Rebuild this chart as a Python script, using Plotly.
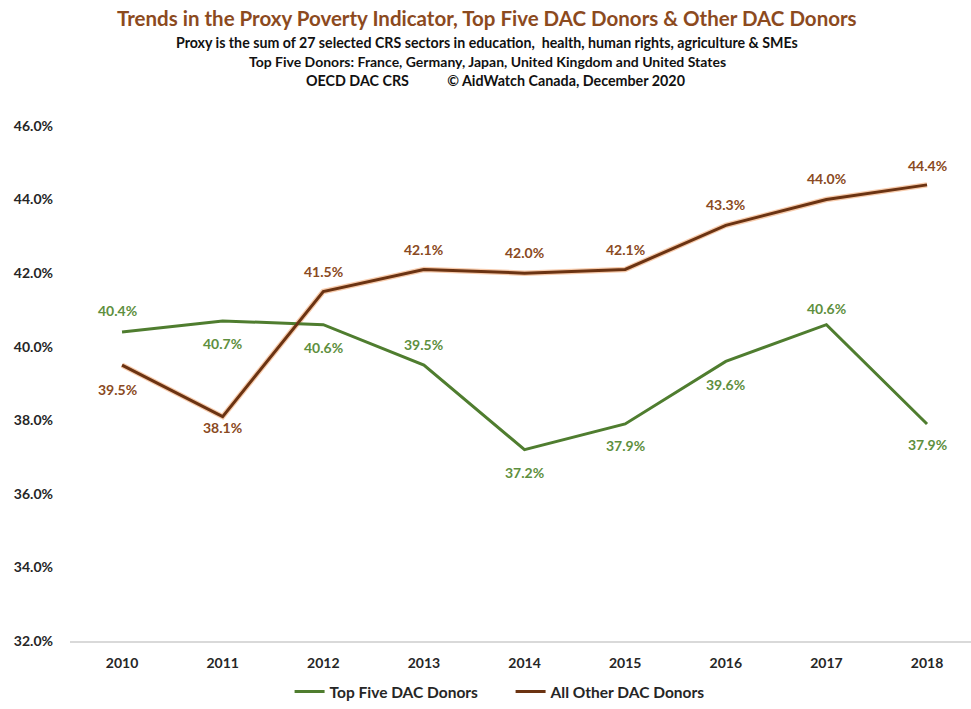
import plotly.graph_objects as go

# Proxy poverty indicator (% of ODA), by year
years = ["2010", "2011", "2012", "2013", "2014", "2015", "2016", "2017", "2018"]
top_five = [40.4, 40.7, 40.6, 39.5, 37.2, 37.9, 39.6, 40.6, 37.9]
other_dac = [39.5, 38.1, 41.5, 42.1, 42.0, 42.1, 43.3, 44.0, 44.4]

# Vertical pixel offsets of the value labels (positive = above the point)
top_five_label_shift = [22, -23, -23, 21, -23, -22, -23, 16, -21]
other_dac_label_shift = [-24, -11, 20, 20, 21, 20, 21, 21, 19]

GREEN = "#4f7d2f"
GREEN_TEXT = "#5e8f3e"
BROWN = "#6b3312"
BROWN_TEXT = "#8a4a22"
FONT = "Lato"

fig = go.Figure()

fig.add_trace(go.Scatter(
    x=years, y=other_dac, mode="lines", showlegend=False, hoverinfo="skip",
    line=dict(color="rgba(237,140,70,0.45)", width=5.5),
))
fig.add_trace(go.Scatter(
    x=years, y=top_five, mode="lines", name="Top Five DAC Donors",
    line=dict(color=GREEN, width=3),
))
fig.add_trace(go.Scatter(
    x=years, y=other_dac, mode="lines", name="All Other DAC Donors",
    line=dict(color=BROWN, width=3),
))

annotations = []
# Value labels, positioned on the category index of each year
for i, v in enumerate(top_five):
    annotations.append(dict(
        x=i, y=v, xref="x", yref="y", text=f"{v:.1f}%", showarrow=False,
        yshift=top_five_label_shift[i], xshift=-5 if i == 0 else 0,
        font=dict(family=FONT, size=14, color=GREEN_TEXT, weight="bold"),
    ))
for i, v in enumerate(other_dac):
    annotations.append(dict(
        x=i, y=v, xref="x", yref="y", text=f"{v:.1f}%", showarrow=False,
        yshift=other_dac_label_shift[i], xshift=-5 if i == 0 else 0,
        font=dict(family=FONT, size=14, color=BROWN_TEXT, weight="bold"),
    ))

# Title block
title_lines = [
    ("Trends in the Proxy Poverty Indicator, Top Five DAC Donors & Other DAC Donors", 20.5, "#8c4a1e", 1.2097, 0.463),
    ("Proxy is the sum of 27 selected CRS sectors in education,  health, human rights, agriculture & SMEs", 14.2, "#111111", 1.1631, 0.463),
    ("Top Five Donors: France, Germany, Japan, United Kingdom and United States", 14, "#111111", 1.1262, 0.463),
    ("OECD DAC CRS" + "&nbsp;" * 11 + "© AidWatch Canada, December 2020", 14.3, "#111111", 1.0893, 0.472),
]
for text, size, color, ypos, xpos in title_lines:
    annotations.append(dict(
        x=xpos, y=ypos, xref="paper", yref="paper", text=text, showarrow=False,
        xanchor="center", yanchor="middle",
        font=dict(family=FONT, size=size, color=color, weight="bold"),
    ))

fig.update_layout(
    width=971, height=709,
    margin=dict(l=70, r=0, t=126, b=68),
    paper_bgcolor="white", plot_bgcolor="white",
    font=dict(family=FONT, size=13, color="#262626", weight="bold"),
    xaxis=dict(
        type="category", range=[-0.517, 8.437],
        showline=True, linecolor="#d9d9d9", linewidth=2,
        showgrid=False, zeroline=False, ticks="",
        ticklabelstandoff=8,
        tickfont=dict(family=FONT, size=14, color="#262626", weight="bold"),
    ),
    yaxis=dict(
        range=[32, 46], dtick=2, tickformat=".1f", ticksuffix="%",
        showgrid=False, zeroline=False, showline=False, ticks="",
        ticklabelstandoff=16,
        tickfont=dict(family=FONT, size=14, color="#262626", weight="bold"),
    ),
    legend=dict(
        orientation="h", x=0.489, y=-0.099, xanchor="center", yanchor="middle",
        font=dict(family=FONT, size=15.5, color="#262626", weight="bold"),
        itemwidth=30, entrywidth=176,
    ),
    annotations=annotations,
)

fig.write_html("out.html")
